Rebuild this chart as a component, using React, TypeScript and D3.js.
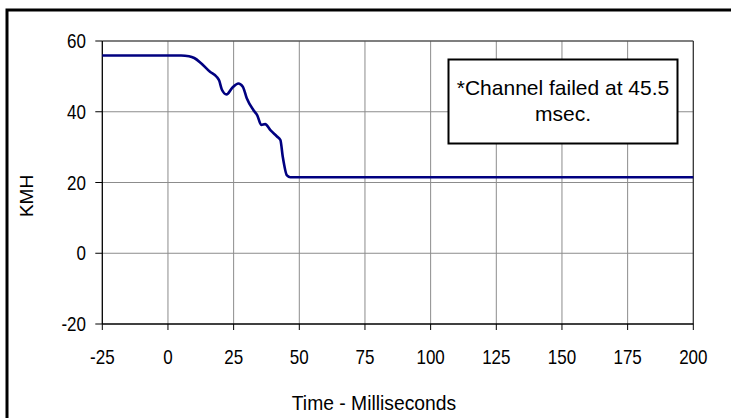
import React from 'react';
import * as d3 from 'd3';

// speed trace
const timeMs = [-25, 0, 5, 8, 10, 12.5, 16, 18.5, 19.5, 20.5, 22.3, 24.5, 26.8, 28.5, 30, 32.5, 34, 35.5, 37, 39, 41.5, 42.8, 43.7, 45.3, 46.6, 200];
const speedKmh = [55.9, 55.9, 55.9, 55.7, 55.2, 53.8, 51.3, 49.9, 48.8, 46.3, 44.9, 46.8, 48.0, 47.1, 43.8, 40.5, 39.0, 36.3, 36.5, 34.8, 33.0, 32.0, 27.3, 22.0, 21.5, 21.5];
const xTicks = [-25, 0, 25, 50, 75, 100, 125, 150, 175, 200];
const yTicks = [-20, 0, 20, 40, 60];
const note = ['*Channel failed at 45.5', 'msec.'];

const W = 731;
const H = 418;
const left = 102.3;
const right = 693.3;
const top = 41;
const bottom = 324;

const sans = "'Liberation Sans', Arial, sans-serif";

// no narrow face installed, so squeeze the regular one
const Narrow: React.FC<{ x: number; y: number; anchor: string; size: number; sx: number; children: React.ReactNode }> =
  ({ x, y, anchor, size, sx, children }) => (
    <text transform={`translate(${x},${y}) scale(${sx},1)`} textAnchor={anchor} fontFamily={sans} fontSize={size} fill="#000">
      {children}
    </text>
  );

const App: React.FC = () => {
  const x = d3.scaleLinear().domain([-25, 200]).range([left, right]);
  const y = d3.scaleLinear().domain([-20, 60]).range([bottom, top]);

  const line = d3.line<number>()
    .x((_, i) => x(timeMs[i]))
    .y((d) => y(d))
    .curve(d3.curveMonotoneX);

  return (
    <svg width={W} height={H} style={{ position: 'absolute', left: 0, top: 0 }}>
      <rect x={0} y={0} width={W} height={H} fill="#fff" />
      {/* outer frame, runs off the right and bottom */}
      <rect x={7} y={10} width={W + 20} height={H + 20} fill="none" stroke="#000" strokeWidth={3} />

      {/* grid */}
      {xTicks.slice(1, -1).map((t) => (
        <line key={'gx' + t} x1={x(t)} x2={x(t)} y1={top} y2={bottom} stroke="#8c8c8c" strokeWidth={1} />
      ))}
      {yTicks.slice(1, -1).map((t) => (
        <line key={'gy' + t} x1={left} x2={right} y1={y(t)} y2={y(t)} stroke="#8c8c8c" strokeWidth={1} />
      ))}
      <line x1={left} x2={right} y1={top} y2={top} stroke="#555" strokeWidth={1.3} />
      <line x1={right} x2={right} y1={top} y2={bottom} stroke="#333" strokeWidth={1.3} />

      {/* axes */}
      <line x1={left} x2={left} y1={top} y2={bottom} stroke="#000" strokeWidth={1.3} />
      <line x1={left} x2={right} y1={bottom} y2={bottom} stroke="#000" strokeWidth={1.3} />
      {xTicks.map((t) => (
        <g key={'xt' + t}>
          <line x1={x(t)} x2={x(t)} y1={bottom} y2={bottom + 6} stroke="#000" strokeWidth={1} />
          <Narrow x={x(t)} y={363.5} anchor="middle" size={20} sx={0.85}>{t}</Narrow>
        </g>
      ))}
      {yTicks.map((t) => (
        <g key={'yt' + t}>
          <line x1={left - 7} x2={left} y1={y(t)} y2={y(t)} stroke="#000" strokeWidth={1} />
          <Narrow x={86} y={y(t) + 7} anchor="end" size={20} sx={0.85}>{t}</Narrow>
        </g>
      ))}

      {/* series */}
      <path d={line(speedKmh) || ''} fill="none" stroke="#000080" strokeWidth={2.6} strokeLinejoin="round" />

      {/* annotation */}
      <rect x={448.5} y={59.5} width={229} height={84} fill="#fff" stroke="#000" strokeWidth={2} />
      <text x={563} y={95} textAnchor="middle" fontFamily={sans} fontSize={21} fill="#000">{note[0]}</text>
      <text x={563} y={121} textAnchor="middle" fontFamily={sans} fontSize={21} fill="#000">{note[1]}</text>

      {/* axis titles */}
      <Narrow x={374} y={410} anchor="middle" size={21} sx={0.92}>Time - Milliseconds</Narrow>
      <text transform="translate(33,196) rotate(-90)" textAnchor="middle" fontFamily={sans} fontSize={19} fill="#000">KMH</text>
    </svg>
  );
};

export default App;
